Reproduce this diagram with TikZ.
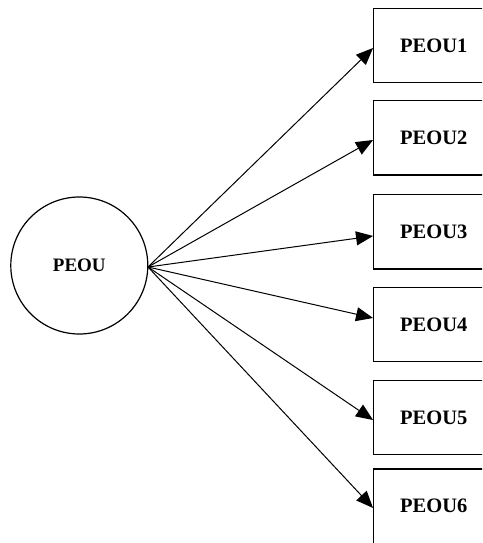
\documentclass[tikz,border=0pt]{standalone}
\usepackage{fontspec}
\setmainfont{Liberation Serif}
\usetikzlibrary{arrows.meta}
\begin{document}
\begin{tikzpicture}[x=1pt,y=-1pt,
  ind/.style={draw, line width=1.3pt, minimum width=120pt, minimum height=74.5pt, inner sep=0pt, font=\fontsize{20.5}{24}\selectfont\bfseries},
  lat/.style={circle, draw, line width=1.2pt, minimum size=137pt, inner sep=0pt, font=\fontsize{19}{22}\selectfont\bfseries},
  conn/.style={line width=1pt, -{Triangle[length=17pt,width=14pt]}}]
\useasboundingbox (0,0) rectangle (482,543);
\clip (0,0) rectangle (482,543);
\node[lat] (peou) at (79.3,265.5) {PEOU};
\node[ind] (i1) at (433.7,45.5) {PEOU1};
\node[ind] (i2) at (433.7,137.7) {PEOU2};
\node[ind] (i3) at (433.7,231.7) {PEOU3};
\node[ind] (i4) at (433.7,324.5) {PEOU4};
\node[ind] (i5) at (433.7,417.5) {PEOU5};
\node[ind] (i6) at (433.7,506.3) {PEOU6};
\coordinate (s) at (148,267);
\draw[conn] (s) -- (i1.west |- 0,48);
\draw[conn] (s) -- (i2.west |- 0,140);
\draw[conn] (s) -- (i3.west |- 0,236);
\draw[conn] (s) -- (i4.west |- 0,318);
\draw[conn] (s) -- (i5.west |- 0,420);
\draw[conn] (s) -- (i6.west |- 0,508);
\end{tikzpicture}
\end{document}
